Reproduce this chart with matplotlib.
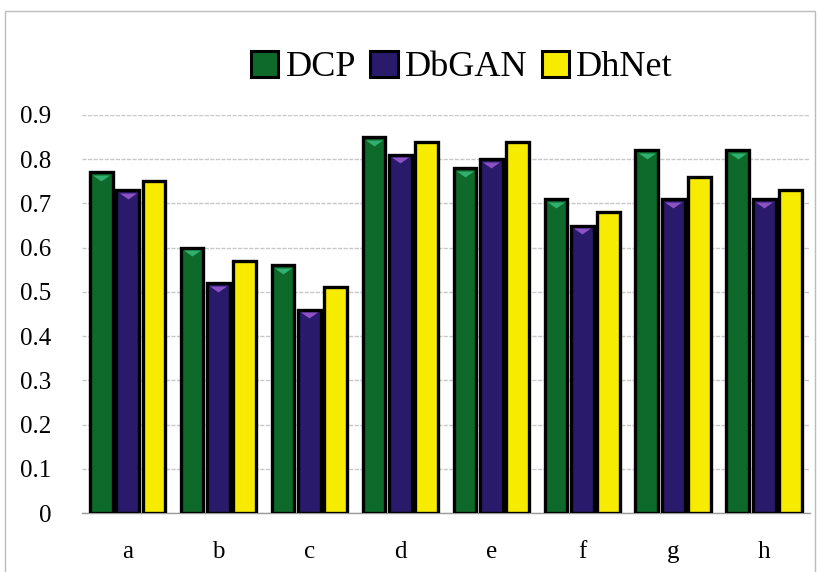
import numpy as np
import matplotlib
matplotlib.use("Agg")
import matplotlib.pyplot as plt
import matplotlib.transforms as mtransforms
from matplotlib.patches import Rectangle, Patch

plt.rcParams['font.family'] = ['Liberation Serif', 'DejaVu Serif']

categories = ['a', 'b', 'c', 'd', 'e', 'f', 'g', 'h']
methods = ['DCP', 'DbGAN', 'DhNet']
dcp = [0.77, 0.60, 0.56, 0.85, 0.78, 0.71, 0.82, 0.82]
dbgan = [0.73, 0.52, 0.46, 0.81, 0.80, 0.65, 0.71, 0.71]
dhnet = [0.75, 0.57, 0.51, 0.84, 0.84, 0.68, 0.76, 0.73]
y_ticks = [0, 0.1, 0.2, 0.3, 0.4, 0.5, 0.6, 0.7, 0.8, 0.9]

colors = ['#0e6a2a', '#291a6c', '#f7ec00']
highlights = ['#2fb06e', '#8c52c4', None]

fig = plt.figure(figsize=(8.22, 5.72), dpi=100)
ax = fig.add_axes([0.0998, 0.103, 0.8852, 0.696])

x = np.arange(len(categories))
w = 0.25
tri = [(-1, 0), (1, 0), (0, -0.7), (-1, 0)]
series = [dcp, dbgan, dhnet]
for i, vals in enumerate(series):
    pos = x + (i - 1) * 0.29
    ax.bar(pos, vals, width=w, color=colors[i], edgecolor='black',
           linewidth=2.4, zorder=3)
    if highlights[i] is not None:
        # shallow bevel highlight at the top of each bar
        off = mtransforms.offset_copy(ax.transData, fig=fig, x=0, y=-2.5, units='dots')
        ax.scatter(pos, vals, marker=tri, s=150, color=highlights[i],
                   linewidths=0, transform=off, zorder=4)

ax.set_xlim(-0.5, len(categories) - 0.5)
ax.set_ylim(0, 0.9)
ax.set_yticks(y_ticks)
ax.set_yticklabels(['0' if t == 0 else f'{t:.1f}' for t in y_ticks])
ax.set_xticks(x)
ax.set_xticklabels(categories)
ax.tick_params(axis='both', length=0, labelsize=18)
ax.tick_params(axis='y', pad=22)
ax.tick_params(axis='x', pad=20)
ax.grid(axis='y', color='#c8c8c8', linewidth=1.0, linestyle=(0, (3, 1)), zorder=0)
for s in ['top', 'right', 'left']:
    ax.spines[s].set_visible(False)
ax.spines['bottom'].set_color('#9a9a9a')
ax.spines['bottom'].set_linewidth(1.0)

handles = [Patch(facecolor=colors[i], edgecolor='black', linewidth=2.2) for i in range(3)]
fig.legend(handles, methods, loc='center', bbox_to_anchor=(0.562, 0.882),
           ncol=3, frameon=False, fontsize=26, handlelength=0.75, handleheight=0.75,
           handletextpad=0.2, columnspacing=0.4)

fig.patches.append(Rectangle((0.006, -0.01), 0.985, 0.99, transform=fig.transFigure,
                             fill=False, edgecolor='#bbbbbb', linewidth=1.0))

fig.savefig('out.png', dpi=100)
